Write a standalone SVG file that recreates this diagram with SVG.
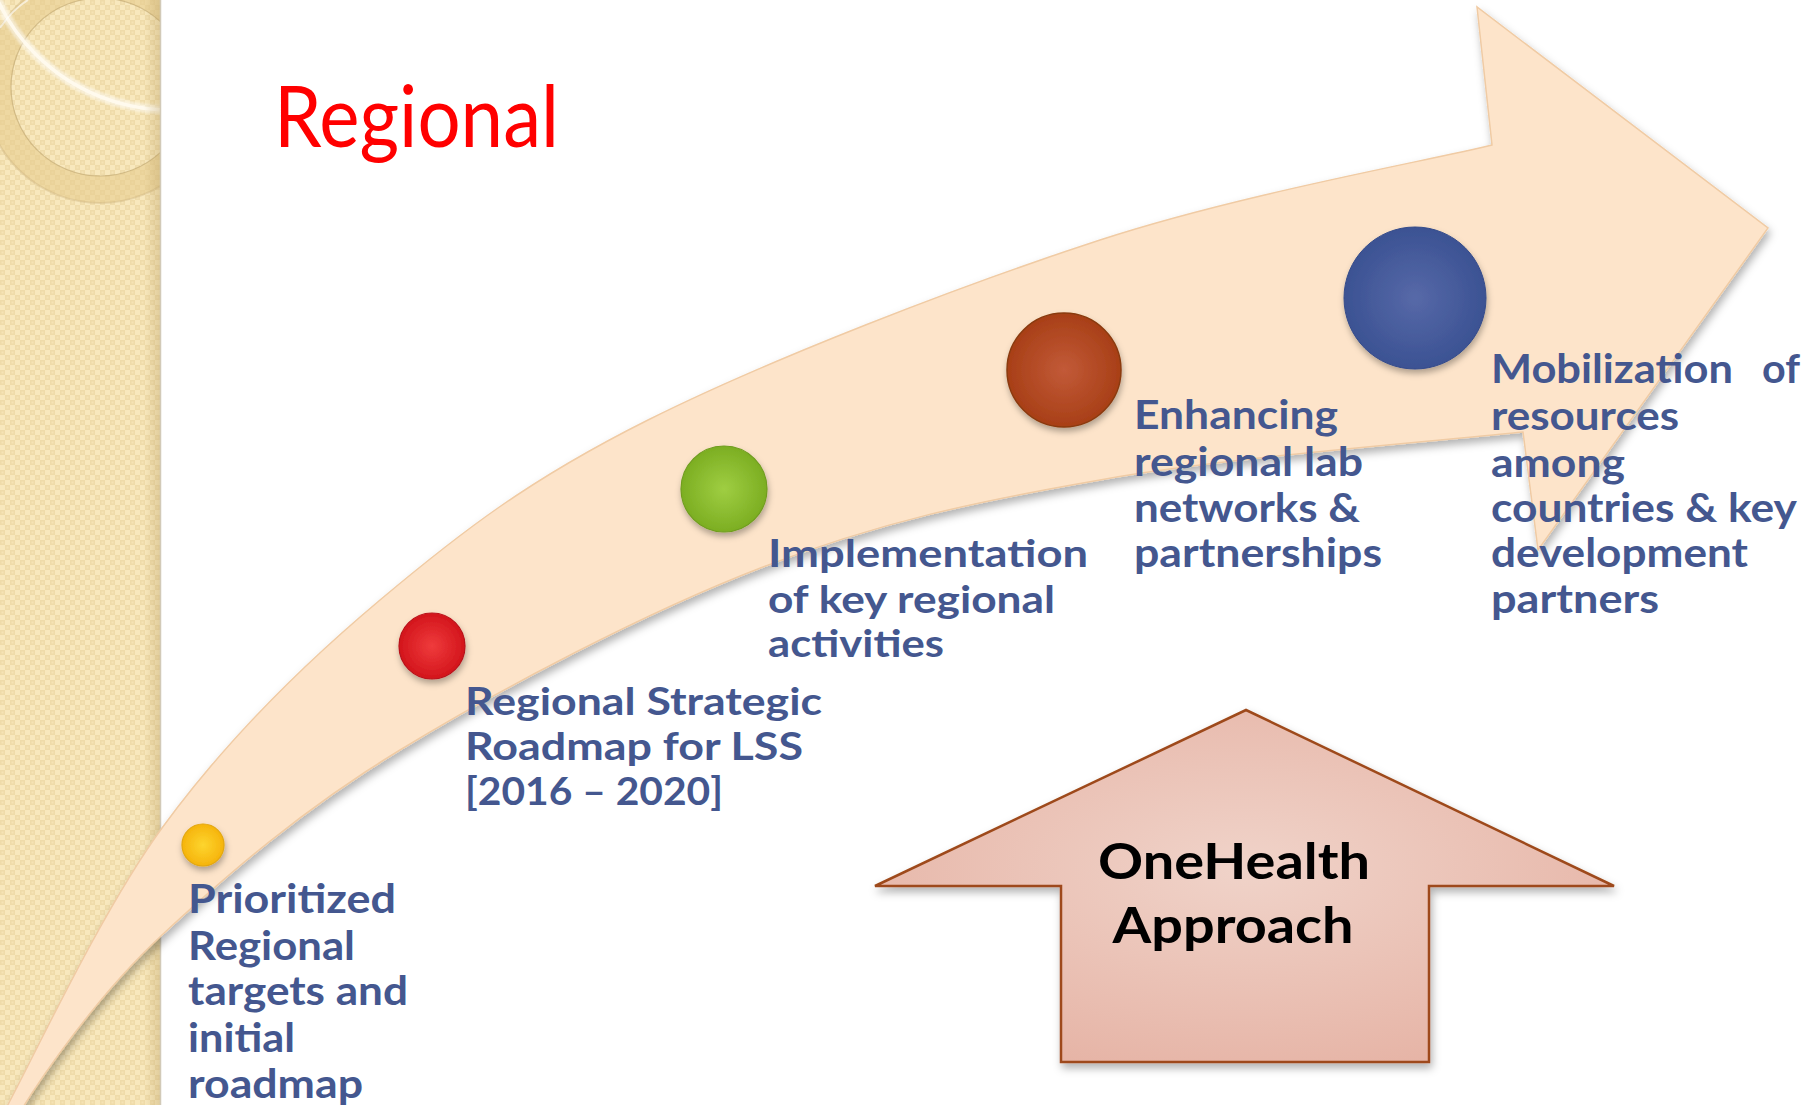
<svg xmlns="http://www.w3.org/2000/svg" width="1817" height="1105" viewBox="0 0 1817 1105">
<style>
.lbl{font-family:Lato,"Open Sans","DejaVu Sans",sans-serif;font-weight:700;font-size:40px;fill:#44578f}
.cnd{font-family:Lato,"Open Sans","DejaVu Sans",sans-serif;font-weight:700;font-size:38px;fill:#44578f}
.big{font-family:Lato,"Open Sans","DejaVu Sans",sans-serif;font-weight:700;font-size:49px;fill:#000;text-anchor:middle}
.title{font-family:Lato,"Open Sans","DejaVu Sans",sans-serif;font-weight:400;font-size:85px;fill:#ff0000}
</style>
<defs>
<pattern id="chk" width="10" height="10" patternUnits="userSpaceOnUse">
<rect width="10" height="10" fill="#f8e8bd"/>
<rect x="0" y="0" width="5" height="5" fill="#efdba9"/>
<rect x="5" y="5" width="5" height="5" fill="#efdba9"/>
<rect x="1.5" y="1.5" width="2" height="2" fill="#f6e3b5"/>
<rect x="6.5" y="6.5" width="2" height="2" fill="#f6e3b5"/>
</pattern>
<linearGradient id="edge" x1="0" y1="0" x2="1" y2="0">
<stop offset="0" stop-color="#b89c60" stop-opacity="0"/>
<stop offset="1" stop-color="#b89c60" stop-opacity="0.35"/>
</linearGradient>
<clipPath id="side"><rect x="0" y="0" width="160" height="1105"/></clipPath>
<filter id="sh" x="-10%" y="-10%" width="120%" height="125%">
<feDropShadow dx="2" dy="5" stdDeviation="4" flood-color="#000" flood-opacity="0.3"/>
</filter>
<filter id="shs" x="-30%" y="-30%" width="160%" height="170%">
<feDropShadow dx="1" dy="4" stdDeviation="3" flood-color="#000" flood-opacity="0.3"/>
</filter>
<filter id="glow" x="-20%" y="-20%" width="140%" height="140%">
<feGaussianBlur stdDeviation="1.2"/>
</filter>
<radialGradient id="gY" cx="50%" cy="50%" r="50%"><stop offset="0" stop-color="#fdd52e"/><stop offset="1" stop-color="#f6b40c"/></radialGradient>
<radialGradient id="gR" cx="50%" cy="50%" r="50%"><stop offset="0" stop-color="#ef3b3c"/><stop offset="1" stop-color="#d3151c"/></radialGradient>
<radialGradient id="gG" cx="50%" cy="50%" r="50%"><stop offset="0" stop-color="#9fce42"/><stop offset="1" stop-color="#7cae22"/></radialGradient>
<radialGradient id="gO" cx="50%" cy="50%" r="50%"><stop offset="0" stop-color="#c25a38"/><stop offset="1" stop-color="#a83f17"/></radialGradient>
<radialGradient id="gB" cx="50%" cy="50%" r="50%"><stop offset="0" stop-color="#5769a8"/><stop offset="1" stop-color="#3b5293"/></radialGradient>
<radialGradient id="gP" cx="50%" cy="45%" r="60%"><stop offset="0" stop-color="#f0d3c9"/><stop offset="1" stop-color="#e6b4a6"/></radialGradient>
</defs>

<g id="sidebar">
<rect x="0" y="0" width="160" height="1105" fill="url(#chk)"/>
<g clip-path="url(#side)">
<circle cx="100" cy="87" r="102.5" fill="none" stroke="#e6cb8c" stroke-opacity="0.55" stroke-width="27"/>
<circle cx="100" cy="87" r="116" fill="none" stroke="#c9b07a" stroke-opacity="0.35" stroke-width="2"/>
<circle cx="100" cy="87" r="89" fill="none" stroke="#b9a06a" stroke-opacity="0.55" stroke-width="1.2"/>
<circle cx="170" cy="-80" r="190" fill="none" stroke="#ffffff" stroke-opacity="0.5" stroke-width="9" filter="url(#glow)"/>
<circle cx="170" cy="-80" r="190" fill="none" stroke="#fffbef" stroke-opacity="0.9" stroke-width="3.5"/>
<path d="M 0,28 Q 12,10 28,0" fill="none" stroke="#ffffff" stroke-opacity="0.6" stroke-width="2"/>
</g>
<rect x="144" y="0" width="16" height="1105" fill="url(#edge)"/>
<line x1="160.5" y1="0" x2="160.5" y2="1105" stroke="#d2cab8" stroke-width="1.5"/>
</g>

<g id="title">
<text class="title" x="274" y="147" textLength="285" lengthAdjust="spacingAndGlyphs">Regional</text>
</g>

<g id="timeline-arrow">
<path filter="url(#sh)" fill="#fde4ca" stroke="#f0cba4" stroke-width="1.5" stroke-linejoin="miter" d="M 4,1112 C 32,1061 100,913 162,828 C 224,743 299,668 380,600 C 461,532 528,480 648,420 C 768,360 959,286 1100,240 C 1241,194 1427,161 1492,145 L 1477,7 L 1768,228 L 1538,550 L 1523,432 C 1452,440 1227,457 1100,480 C 973,502 880,522 763,567 C 646,612 500,689 400,750 C 300,811 227,875 162,935 C 97,995 40,1079 20,1112 Z"/>
</g>

<g id="milestone-1">
<circle cx="203" cy="845" r="21" fill="url(#gY)" stroke="#e3a70a" stroke-width="1.2" filter="url(#shs)"/>
<text class="lbl"><tspan x="188" y="913" textLength="208" lengthAdjust="spacingAndGlyphs">Prioritized</tspan><tspan x="188" y="960" textLength="167" lengthAdjust="spacingAndGlyphs">Regional</tspan><tspan x="188" y="1005" textLength="220" lengthAdjust="spacingAndGlyphs">targets and</tspan><tspan x="188" y="1052" textLength="107" lengthAdjust="spacingAndGlyphs">initial</tspan><tspan x="188" y="1098" textLength="175" lengthAdjust="spacingAndGlyphs">roadmap</tspan></text>
</g>

<g id="milestone-2">
<circle cx="432" cy="646" r="33" fill="url(#gR)" stroke="#b9121a" stroke-width="1.2" filter="url(#shs)"/>
<text class="cnd"><tspan x="465" y="715" textLength="357" lengthAdjust="spacingAndGlyphs">Regional Strategic</tspan><tspan x="465" y="760" textLength="338" lengthAdjust="spacingAndGlyphs">Roadmap for LSS</tspan><tspan x="465" y="805" textLength="258" lengthAdjust="spacingAndGlyphs">[2016 – 2020]</tspan></text>
</g>

<g id="milestone-3">
<circle cx="724" cy="489" r="43" fill="url(#gG)" stroke="#6f9d1f" stroke-width="1.2" filter="url(#shs)"/>
<text class="cnd"><tspan x="768" y="567" textLength="320" lengthAdjust="spacingAndGlyphs">Implementation</tspan><tspan x="768" y="613" textLength="287" lengthAdjust="spacingAndGlyphs">of key regional</tspan><tspan x="768" y="657" textLength="176" lengthAdjust="spacingAndGlyphs">activities</tspan></text>
</g>

<g id="milestone-4">
<circle cx="1064" cy="370" r="57" fill="url(#gO)" stroke="#8a3a10" stroke-width="1.5" filter="url(#shs)"/>
<text class="lbl"><tspan x="1134" y="429" textLength="204" lengthAdjust="spacingAndGlyphs">Enhancing</tspan><tspan x="1134" y="476" textLength="229" lengthAdjust="spacingAndGlyphs">regional lab</tspan><tspan x="1134" y="522" textLength="226" lengthAdjust="spacingAndGlyphs">networks &amp;</tspan><tspan x="1134" y="567" textLength="248" lengthAdjust="spacingAndGlyphs">partnerships</tspan></text>
</g>

<g id="milestone-5">
<circle cx="1415" cy="298" r="71" fill="url(#gB)" stroke="#364c8a" stroke-width="1" filter="url(#shs)"/>
<text class="lbl"><tspan x="1491" y="383" textLength="242" lengthAdjust="spacingAndGlyphs">Mobilization</tspan><tspan x="1762" y="383" textLength="38" lengthAdjust="spacingAndGlyphs">of</tspan><tspan x="1491" y="430" textLength="188" lengthAdjust="spacingAndGlyphs">resources</tspan><tspan x="1491" y="477" textLength="134" lengthAdjust="spacingAndGlyphs">among</tspan><tspan x="1491" y="522" textLength="306" lengthAdjust="spacingAndGlyphs">countries &amp; key</tspan><tspan x="1491" y="567" textLength="257" lengthAdjust="spacingAndGlyphs">development</tspan><tspan x="1491" y="613" textLength="168" lengthAdjust="spacingAndGlyphs">partners</tspan></text>
</g>

<g id="onehealth">
<path filter="url(#sh)" fill="url(#gP)" stroke="#9e4a1a" stroke-width="2.5" stroke-linejoin="miter" d="M 1246,710 L 1614,886 L 1429,886 L 1429,1062 L 1061,1062 L 1061,886 L 875,886 Z"/>
<text class="big" x="1234" y="879" textLength="272" lengthAdjust="spacingAndGlyphs">OneHealth</text>
<text class="big" x="1233" y="943" textLength="241" lengthAdjust="spacingAndGlyphs">Approach</text>
</g>
</svg>
